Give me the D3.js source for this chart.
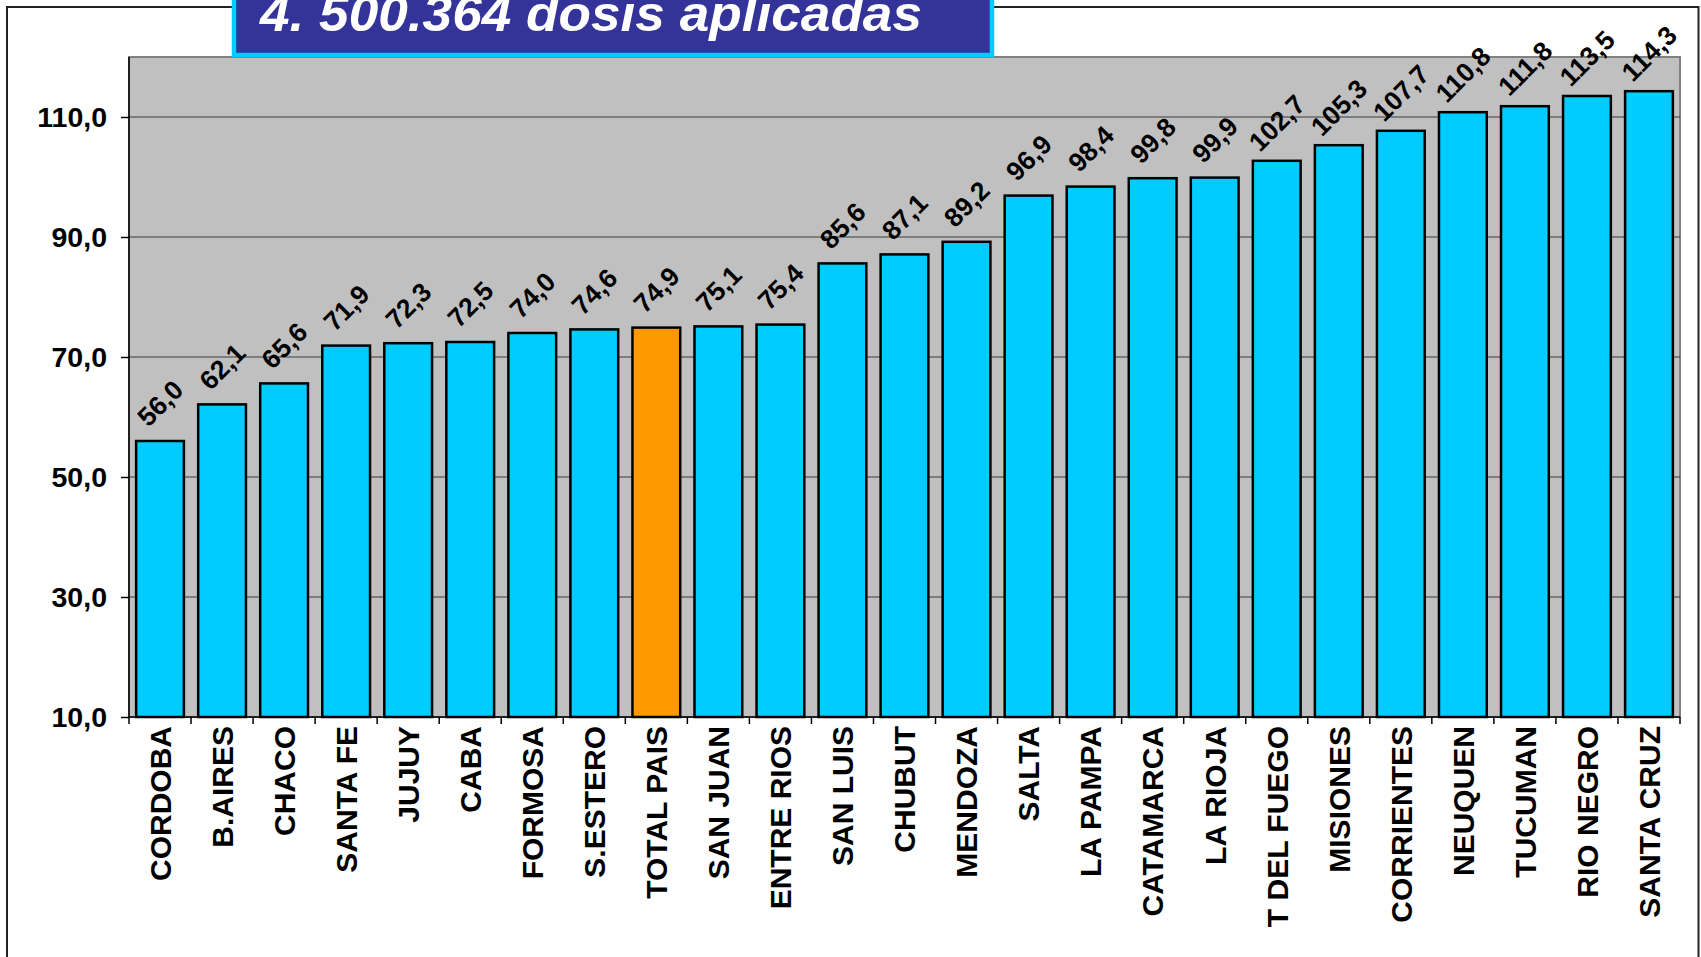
<!DOCTYPE html>
<html>
<head>
<meta charset="utf-8">
<script src="https://cdn.jsdelivr.net/npm/d3@7"></script>
<style>
  body { margin: 0; background: #fff; }
  svg { display: block; font-family: "Liberation Sans", Arial, sans-serif; }
</style>
</head>
<body>
<div id="chart"></div>
<script>
// dosis aplicadas cada 100 habitantes, por jurisdiccion
const provincias = ["CORDOBA", "B.AIRES", "CHACO", "SANTA FE", "JUJUY", "CABA", "FORMOSA", "S.ESTERO",
    "TOTAL PAIS", "SAN JUAN", "ENTRE RIOS", "SAN LUIS", "CHUBUT", "MENDOZA", "SALTA", "LA PAMPA",
    "CATAMARCA", "LA RIOJA", "T DEL FUEGO", "MISIONES", "CORRIENTES", "NEUQUEN", "TUCUMAN", "RIO NEGRO", "SANTA CRUZ"];
const valores = [56.0, 62.1, 65.6, 71.9, 72.3, 72.5, 74.0, 74.6,
    74.9, 75.1, 75.4, 85.6, 87.1, 89.2, 96.9, 98.4,
    99.8, 99.9, 102.7, 105.3, 107.7, 110.8, 111.8, 113.5, 114.3];
const yTicks = [10, 30, 50, 70, 90, 110];
const titulo = "4. 500.364 dosis aplicadas";
const destacado = "TOTAL PAIS";

const data = provincias.map((p, i) => ({name: p, value: valores[i]}));

const W = 1701, H = 957;
const margin = {top: 57, right: 21, bottom: 240, left: 129};
const width = W - margin.left - margin.right;
const height = H - margin.top - margin.bottom;

const fmt = d3.formatLocale({decimal: ",", thousands: ".", grouping: [3], currency: ["$", ""]}).format(".1f");

const svg = d3.select("#chart").append("svg")
    .attr("width", W)
    .attr("height", H);

// outer frame
svg.append("path")
    .attr("d", `M7,${H} V7 H1698.5 V${H}`)
    .attr("fill", "none")
    .attr("stroke", "#222")
    .attr("stroke-width", 2);

const g = svg.append("g")
    .attr("transform", `translate(${margin.left},${margin.top})`);

const x = d3.scaleBand()
    .domain(provincias)
    .range([0, width])
    .paddingInner(0.23)
    .paddingOuter(0.115);

const y = d3.scaleLinear()
    .domain([10, 120])
    .range([height, 0]);

// plot background
g.append("rect")
    .attr("width", width)
    .attr("height", height)
    .attr("fill", "#C0C0C0")
    .attr("stroke", "#808080")
    .attr("stroke-width", 2);

// gridlines
g.append("g")
    .selectAll("line")
    .data(yTicks.filter(t => t > 10))
    .join("line")
    .attr("x1", 0)
    .attr("x2", width)
    .attr("y1", d => y(d))
    .attr("y2", d => y(d))
    .attr("stroke", "#3a3a3a")
    .attr("stroke-width", 1);

// y axis
const yAxis = g.append("g")
    .call(d3.axisLeft(y).tickValues(yTicks).tickFormat(fmt).tickSize(8).tickPadding(14).tickSizeOuter(0));
yAxis.select(".domain").remove();
yAxis.selectAll(".tick line").attr("stroke", "#000").attr("stroke-width", 1.5);
yAxis.selectAll(".tick text")
    .attr("fill", "#000")
    .style("font-size", "28.5px")
    .style("font-weight", "bold");

// bars
g.append("g")
    .selectAll("rect")
    .data(data)
    .join("rect")
    .attr("x", d => x(d.name))
    .attr("y", d => y(d.value))
    .attr("width", x.bandwidth())
    .attr("height", d => y(10) - y(d.value))
    .attr("fill", d => d.name === destacado ? "#FF9900" : "#00CCFF")
    .attr("stroke", "#000")
    .attr("stroke-width", 2.5);

// axis lines
g.append("line")
    .attr("x1", 0).attr("x2", 0)
    .attr("y1", 0).attr("y2", height)
    .attr("stroke", "#000").attr("stroke-width", 1.5);
g.append("line")
    .attr("x1", 0).attr("x2", width)
    .attr("y1", height).attr("y2", height)
    .attr("stroke", "#000").attr("stroke-width", 1.5);

// x ticks at category boundaries
g.append("g")
    .selectAll("line")
    .data(d3.range(provincias.length + 1))
    .join("line")
    .attr("x1", i => i * x.step())
    .attr("x2", i => i * x.step())
    .attr("y1", height)
    .attr("y2", height + 7)
    .attr("stroke", "#000")
    .attr("stroke-width", 1.5);

// category labels
g.append("g")
    .selectAll("text")
    .data(data)
    .join("text")
    .attr("transform", d => `translate(${x(d.name) + x.bandwidth() / 2},${height + 9}) rotate(-90)`)
    .attr("text-anchor", "end")
    .attr("dy", "0.36em")
    .style("font-size", "30px")
    .style("font-weight", "bold")
    .text(d => d.name);

// value labels
g.append("g")
    .selectAll("text")
    .data(data)
    .join("text")
    .attr("transform", d => `translate(${x(d.name) + x.bandwidth() / 2},${y(d.value) - 38}) rotate(-45)`)
    .attr("text-anchor", "middle")
    .attr("dy", "0.36em")
    .style("font-size", "26.5px")
    .style("font-weight", "bold")
    .text(d => fmt(d.value));

// title box
svg.append("rect")
    .attr("x", 234)
    .attr("y", -20)
    .attr("width", 758)
    .attr("height", 75)
    .attr("fill", "#333399")
    .attr("stroke", "#00CCFF")
    .attr("stroke-width", 4.5);

svg.append("text")
    .attr("x", 260)
    .attr("y", 31)
    .attr("fill", "#fff")
    .attr("textLength", 662)
    .attr("lengthAdjust", "spacingAndGlyphs")
    .style("font-size", "50px")
    .style("font-weight", "bold")
    .style("font-style", "italic")
    .text(titulo);
</script>
</body>
</html>
